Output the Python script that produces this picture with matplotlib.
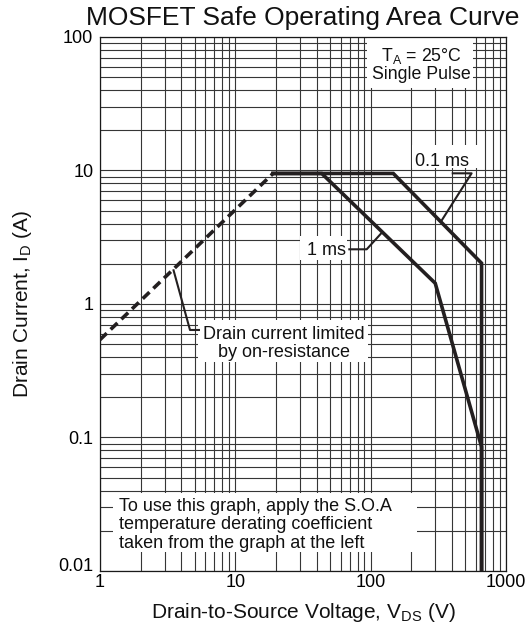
import numpy as np
import matplotlib

matplotlib.use("Agg")
import matplotlib.pyplot as plt
from matplotlib.patches import Rectangle
from matplotlib.transforms import ScaledTranslation

plt.rcParams["font.family"] = ["Liberation Sans", "DejaVu Sans"]
plt.rcParams["mathtext.fontset"] = "custom"
plt.rcParams["mathtext.rm"] = "Liberation Sans"
plt.rcParams["mathtext.default"] = "regular"

# R_DS(on) limit (dashed)
rds_v = [1, 19]
rds_i = [0.54, 9.5]
# 1 ms single pulse boundary
ms1_v = [19, 43.5, 300, 660, 660]
ms1_i = [9.5, 9.5, 1.43, 0.085, 0.01]
# 0.1 ms single pulse boundary
ms01_v = [19, 147, 660, 660]
ms01_i = [9.5, 9.5, 2.02, 0.01]

x_ticks = [1, 10, 100, 1000]
x_labels = ["1", "10", "100", "1000"]
y_ticks = [0.01, 0.1, 1, 10, 100]
y_labels = ["0.01", "0.1", "1", "10", "100"]

ink = "#231f20"
grid_c = "#363636"

fig = plt.figure(figsize=(5.31, 6.28), dpi=100)
ax = fig.add_axes([0.1883, 0.0908, 0.7646, 0.8503])
ax.set_xscale("log")
ax.set_yscale("log")
ax.set_xlim(1, 1000)
ax.set_ylim(0.01, 100)

ax.set_axisbelow(True)
ax.grid(True, which="both", color=grid_c, lw=0.8)
ax.tick_params(which="both", length=0)
ax.tick_params(axis="x", pad=2.5, labelsize=13)
ax.tick_params(axis="y", pad=4.8, labelsize=13)
ax.set_xticks(x_ticks, x_labels)
ax.set_yticks(y_ticks, y_labels)
for spine in ax.spines.values():
    spine.set_color("#1a1a1a")
    spine.set_linewidth(0.9)

# lift the bottom y label clear of the "1" below it
for lab in ax.get_yticklabels():
    if lab.get_text() == "0.01":
        lab.set_transform(lab.get_transform() + ScaledTranslation(0, 0.06, fig.dpi_scale_trans))

ax.plot(rds_v, rds_i, color=ink, lw=2.6, dashes=(2.6, 1.5), dash_capstyle="butt", zorder=4)
ax.plot(ms1_v, ms1_i, color=ink, lw=2.6, solid_joinstyle="miter", zorder=4)
ax.plot(ms01_v, ms01_i, color=ink, lw=2.6, solid_joinstyle="miter", zorder=4)


def on_curve(vs, cs, v):
    lv = np.log10(vs[:-1])
    li = np.log10(cs[:-1])
    return v, 10 ** np.interp(np.log10(v), lv, li)


def leader(pts, tip):
    tip_ax = ax.transAxes.inverted().transform(ax.transData.transform(tip))
    p = np.vstack([pts, tip_ax])
    ax.plot(p[:, 0], p[:, 1], transform=ax.transAxes, color=ink, lw=1.5,
            solid_capstyle="butt", zorder=4)


def blank(x0, y0, x1, y1):
    ax.add_patch(Rectangle((x0, y0), x1 - x0, y1 - y0, transform=ax.transAxes,
                           facecolor="white", edgecolor="none", zorder=2))


txt = dict(transform=ax.transAxes, color="#111111", zorder=3, va="baseline")

# conditions box
blank(0.6576, 0.9045, 0.9187, 1.0)
ax.text(0.792, 0.955, r"$\mathregular{T_A}$ = 25°C", ha="center", fontsize=12.8, **txt)
ax.text(0.792, 0.9204, "Single Pulse", ha="center", fontsize=12.8, **txt)

# 0.1 ms label
blank(0.7685, 0.7547, 0.9310, 0.7978)
ax.text(0.8436, 0.7584, "0.1 ms", ha="center", fontsize=13, **txt)
leader([[0.8663, 0.7447], [0.9153, 0.7447]], on_curve(ms01_v, ms01_i, 330))

# 1 ms label
blank(0.4926, 0.5824, 0.6084, 0.6273)
ax.text(0.5567, 0.5918, "1 ms", ha="center", fontsize=13, **txt)
leader([[0.6116, 0.6024], [0.6569, 0.6024]], on_curve(ms1_v, ms1_i, 122))

# R_DS(on) note
blank(0.2414, 0.3914, 0.6601, 0.4700)
ax.text(0.4532, 0.4345, "Drain current limited", ha="center", fontsize=13, **txt)
ax.text(0.4532, 0.4007, "by on-resistance", ha="center", fontsize=13, **txt)
leader([[0.2463, 0.4513], [0.2217, 0.4513]], (3.48, 10 ** np.interp(np.log10(3.48), np.log10(rds_v), np.log10(rds_i))))

# derating note
blank(0.0320, 0.0356, 0.7808, 0.1461)
note = ["To use this graph, apply the S.O.A",
        "temperature derating coefficient",
        "taken from the graph at the left"]
for line, yb in zip(note, [0.1129, 0.0781, 0.0425]):
    ax.text(0.0468, yb, line, ha="left", fontsize=13, **txt)

ax.set_title("MOSFET Safe Operating Area Curve", fontsize=19, pad=8.6, color="#111111")
ax.set_xlabel(r"Drain-to-Source Voltage, $\mathregular{V_{DS}}$ (V)", fontsize=15, color="#111111")
ax.set_ylabel(r"Drain Current, $\mathregular{I_D}$ (A)", fontsize=15, color="#111111")
ax.xaxis.set_label_coords(0.5, -0.0562)
ax.yaxis.set_label_coords(-0.162, 0.5)

fig.savefig("out.png", dpi=100)
plt.close(fig)
